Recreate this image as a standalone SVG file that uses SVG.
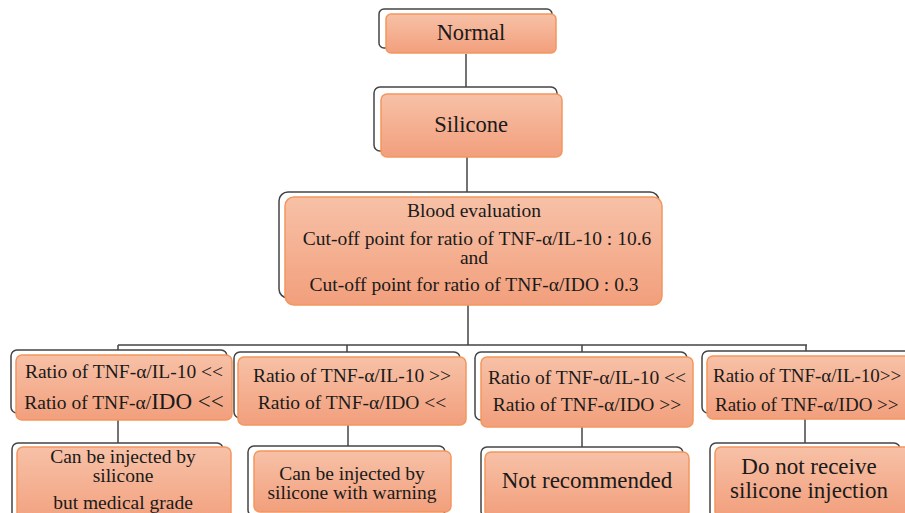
<svg xmlns="http://www.w3.org/2000/svg" width="905" height="513" viewBox="0 0 905 513">
<defs>
<linearGradient id="og" x1="0" y1="0" x2="0" y2="1">
<stop offset="0" stop-color="#f7c1a7"/>
<stop offset="1" stop-color="#f29f7c"/>
</linearGradient>
<style>
.back{fill:#ffffff;stroke:#444444;stroke-width:1.5}
.front{fill:url(#og);stroke:#f3975e;stroke-width:1.5}
.t{font-family:"Liberation Serif","Times New Roman",serif;fill:#1a1a1a;text-anchor:middle}
.ts{text-anchor:start;font-size:19px}
.s19{font-size:19.5px}
.s22{font-size:22.5px}
.s23{font-size:23px}
.conn{fill:none;stroke:#444444;stroke-width:1.5}
</style>
</defs>
<rect width="905" height="513" fill="#ffffff"/>
<g id="connectors">
<path class="conn" d="M466,54 V87"/>
<path class="conn" d="M467,157 V192"/>
<path class="conn" d="M468,305 V345 M118,345 H807 M118,345 V350 M347,345 V352 M582,345 V352 M806,345 V351"/>
<path class="conn" d="M118,420 V443"/>
<path class="conn" d="M348,425 V446"/>
<path class="conn" d="M582,427 V447"/>
<path class="conn" d="M805,419 V443"/>
</g>
<g id="normal">
<rect class="back" x="379" y="9" width="173" height="39" rx="5"/>
<rect class="front" x="386" y="14" width="170" height="39" rx="5"/>
<text class="t s22" x="471" y="40">Normal</text>
</g>
<g id="silicone">
<rect class="back" x="374" y="87" width="183" height="64" rx="6"/>
<rect class="front" x="381" y="94" width="181" height="63" rx="6"/>
<text class="t s22" x="471" y="132">Silicone</text>
</g>
<g id="blood">
<rect class="back" x="279" y="192" width="380" height="106" rx="9"/>
<rect class="front" x="285" y="197" width="377" height="108" rx="9"/>
<text class="t s19" x="474" y="217">Blood  evaluation</text>
<text class="t s19" x="477" y="245">Cut-off point  for ratio of TNF-α/IL-10 : 10.6</text>
<text class="t s19" x="474" y="264">and</text>
<text class="t s19" x="474" y="291">Cut-off point  for ratio of TNF-α/IDO : 0.3</text>
</g>
<g id="r1">
<rect class="back" x="11" y="350" width="216" height="63" rx="6"/>
<rect class="front" x="16" y="355" width="216" height="65" rx="6"/>
<text class="t s19" x="124" y="378">Ratio of TNF-α/IL-10 &lt;&lt;</text>
<text class="t s19" x="124" y="409">Ratio of TNF-α/<tspan font-size="23px">IDO &lt;&lt;</tspan></text>
</g>
<g id="r2">
<rect class="back" x="234" y="352" width="226" height="66" rx="6"/>
<rect class="front" x="238" y="357" width="228" height="68" rx="6"/>
<text class="t s19" x="352" y="382">Ratio of TNF-α/IL-10 &gt;&gt;</text>
<text class="t s19" x="352" y="409">Ratio of TNF-α/IDO &lt;&lt;</text>
</g>
<g id="r3">
<rect class="back" x="475" y="352" width="212" height="68" rx="6"/>
<rect class="front" x="481" y="357" width="212" height="70" rx="6"/>
<text class="t s19" x="587" y="384">Ratio of TNF-α/IL-10 &lt;&lt;</text>
<text class="t s19" x="587" y="411">Ratio of TNF-α/IDO &gt;&gt;</text>
</g>
<g id="r4">
<rect class="back" x="702" y="351" width="215" height="62" rx="6"/>
<rect class="front" x="707" y="356" width="215" height="63" rx="6"/>
<text class="t ts" x="713" y="382">Ratio of TNF-α/IL-10&gt;&gt;</text>
<text class="t ts" x="715" y="411">Ratio of  TNF-α/IDO &gt;&gt;</text>
</g>
<g id="c1">
<rect class="back" x="12" y="443" width="211" height="80" rx="6"/>
<rect class="front" x="17" y="447" width="214" height="80" rx="6"/>
<text class="t s19" x="123" y="463">Can be injected by</text>
<text class="t s19" x="123" y="482">silicone</text>
<text class="t s19" x="123" y="509">but medical grade</text>
</g>
<g id="c2">
<rect class="back" x="248" y="446" width="197" height="70" rx="6"/>
<rect class="front" x="254" y="451" width="197" height="61" rx="6"/>
<text class="t s19" x="352" y="480">Can be injected by</text>
<text class="t s19" x="352" y="499">silicone  with  warning</text>
</g>
<g id="c3">
<rect class="back" x="481" y="447" width="202" height="70" rx="6"/>
<rect class="front" x="485" y="452" width="204" height="65" rx="6"/>
<text class="t s23" x="587" y="488">Not recommended</text>
</g>
<g id="c4">
<rect class="back" x="710" y="443" width="190" height="75" rx="6"/>
<rect class="front" x="715" y="447" width="195" height="70" rx="6"/>
<text class="t s23" x="809" y="474">Do not receive</text>
<text class="t s23" x="809" y="498">silicone  injection</text>
</g>
</svg>
